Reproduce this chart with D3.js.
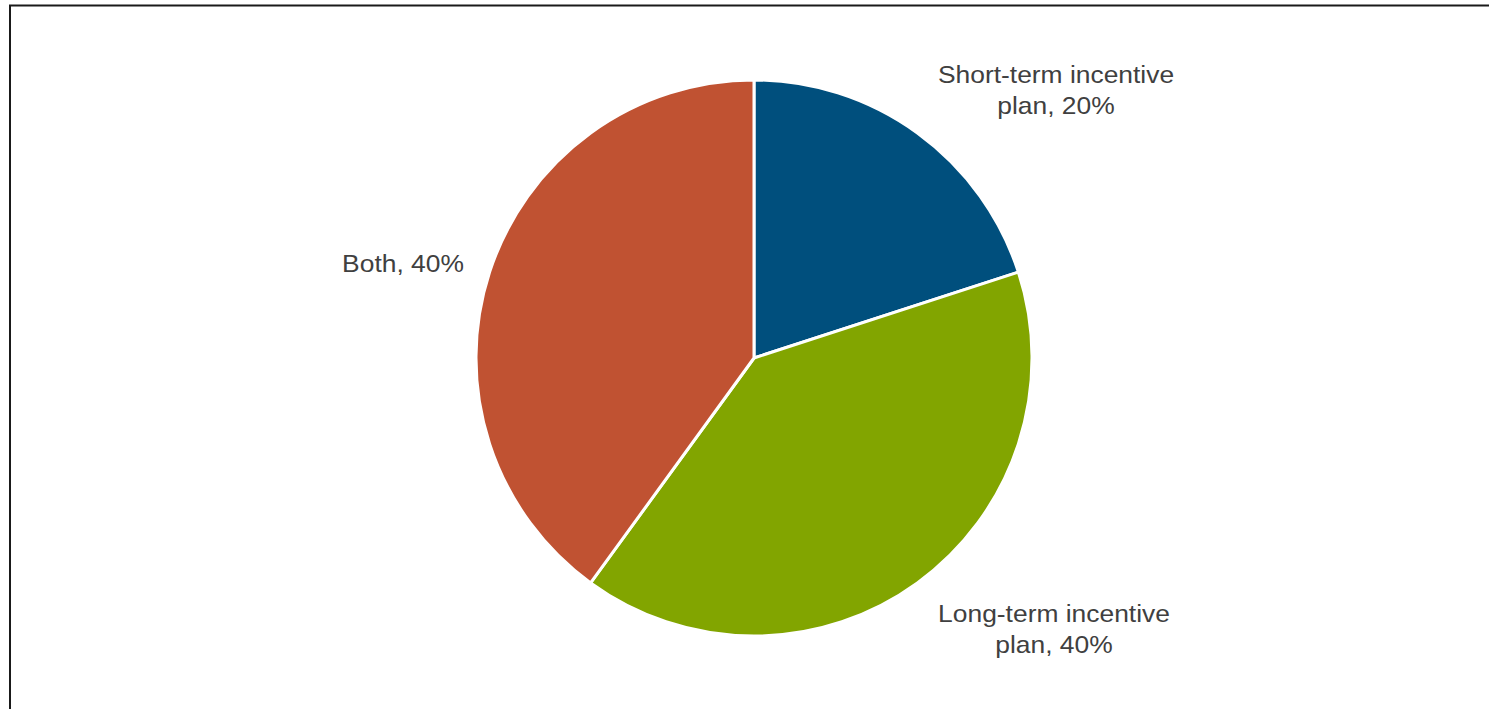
<!DOCTYPE html>
<html>
<head>
<meta charset="utf-8">
<script src="https://cdn.jsdelivr.net/npm/d3@7"></script>
<style>
body { margin: 0; background: #fff; }
svg text { font-family: "Liberation Sans", Arial, sans-serif; fill: #404040; }
</style>
</head>
<body>
<script>
var categories = ["Short-term incentive plan", "Long-term incentive plan", "Both"];
var values = [20, 40, 40];
var colors = ["#004F7D", "#82A500", "#C05232"];
var labelLines = [["Short-term incentive", "plan, 20%"], ["Long-term incentive", "plan, 40%"], ["Both, 40%"]];
var labelPos = [[1056, 75], [1054, 614], [403, 264]];

var width = 1489;
var height = 709;
var cx = 754, cy = 358, radius = 278;

var svg = d3.select("body").append("svg").attr("width", width).attr("height", height);

svg.append("rect")
	.attr("x", 10).attr("y", 5.5)
	.attr("width", width + 20).attr("height", height + 20)
	.attr("fill", "none").attr("stroke", "#1a1a1a").attr("stroke-width", 2);

var pie = d3.pie().sort(null).value(function(d){ return d; });
var arc = d3.arc().innerRadius(0).outerRadius(radius);

var g = svg.append("g").attr("transform", "translate(" + cx + "," + cy + ")");
g.selectAll("path").data(pie(values)).enter().append("path")
	.attr("d", arc)
	.attr("fill", function(d, i){ return colors[i]; })
	.attr("stroke", "#fff").attr("stroke-width", 3).attr("stroke-linejoin", "round");

var labels = svg.selectAll("text.lbl").data(categories).enter().append("text")
	.attr("class", "lbl")
	.attr("text-anchor", "middle")
	.attr("font-size", 24)
	.attr("transform", function(d, i){ return "translate(" + labelPos[i][0] + "," + labelPos[i][1] + ") scale(1.1,1)"; });
labels.each(function(d, i){
	var t = d3.select(this);
	labelLines[i].forEach(function(line, j){
		t.append("tspan").attr("x", 0).attr("y", j * 31 + 8).text(line);
	});
});
</script>
</body>
</html>
